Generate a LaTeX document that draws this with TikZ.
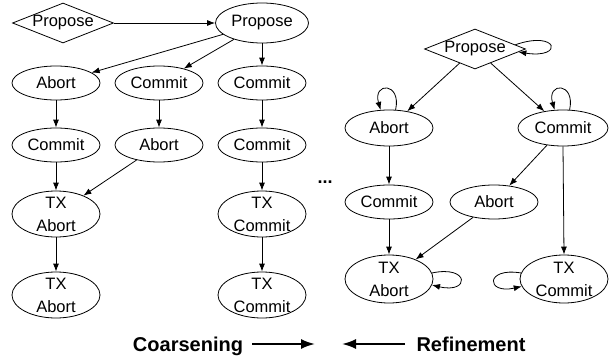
\documentclass[tikz,border=0pt]{standalone}
\usepackage{fontspec}
\setmainfont{Liberation Sans}
\usetikzlibrary{shapes.geometric,arrows.meta}

\begin{document}
\begin{tikzpicture}[x=1pt,y=-1pt,line width=0.8pt,
	st/.style={draw,ellipse,inner sep=0pt,minimum width=88pt,minimum height=34pt,font=\fontsize{16.5}{20}\selectfont},
	tx/.style={st,align=center,inner ysep=-3pt,minimum height=46pt,font=\fontsize{16.5}{23}\selectfont},
	start/.style={draw,diamond,aspect=2.5,inner sep=0pt,minimum width=101pt,minimum height=40pt,font=\fontsize{16.5}{20}\selectfont},
	tr/.style={-{Latex[length=8pt,width=6pt]}},
	big/.style={-{Latex[length=14pt,width=10pt]},line width=2pt},
	lbl/.style={anchor=base,inner sep=0pt,font=\fontsize{20}{24}\selectfont\bfseries}]
	\useasboundingbox (0,0) rectangle (613,356);

	% coarse graph
	\node[start] (p0) at (63,23) {Propose};
	\node[st,minimum width=93pt,minimum height=40pt] (p1) at (262,23) {Propose};

	\node[st] (a1) at (56,83) {Abort};
	\node[st] (c1) at (159,83) {Commit};
	\node[st] (c2) at (262,83) {Commit};

	\node[st] (c3) at (56,145) {Commit};
	\node[st] (a2) at (159,145) {Abort};
	\node[st] (c4) at (262,145) {Commit};

	\node[tx] (t1) at (56,214) {TX\\Abort};
	\node[tx] (t2) at (262,214) {TX\\Commit};
	\node[tx] (t3) at (56,295) {TX\\Abort};
	\node[tx] (t4) at (262,295) {TX\\Commit};

	\draw[tr] (p0) -- (p1);
	\draw[tr] (p1) -- (a1);
	\draw[tr] (p1) -- (c1);
	\draw[tr] (p1) -- (c2);
	\draw[tr] (a1) -- (c3);
	\draw[tr] (c1) -- (a2);
	\draw[tr] (c2) -- (c4);
	\draw[tr] (c3) -- (t1);
	\draw[tr] (a2) -- (t1);
	\draw[tr] (c4) -- (t2);
	\draw[tr] (t1) -- (t3);
	\draw[tr] (t2) -- (t4);

	\node[font=\fontsize{18}{20}\selectfont\bfseries,inner sep=0pt] (dots) at (325,182) {...};

	% refined graph
	\node[start] (q0) at (475,49) {Propose};
	\node[st,minimum height=36pt] (ra) at (389,128) {Abort};
	\node[st,minimum width=90pt,minimum height=36pt] (rc) at (563,128) {Commit};
	\node[st] (rc2) at (389,202) {Commit};
	\node[st] (ra2) at (494,202) {Abort};
	\node[tx,minimum height=48pt] (rt1) at (389,279) {TX\\Abort};
	\node[tx,minimum height=48pt] (rt2) at (564,279) {TX\\Commit};

	\draw[tr] (q0) -- (ra);
	\draw[tr] (q0) -- (rc);
	\draw[tr] (ra) -- (rc2);
	\draw[tr] (rc) -- (ra2);
	\draw[tr] (rc.south) -- (rt2.north);
	\draw[tr] (rc2) -- (rt1);
	\draw[tr] (ra2) -- (rt1);

	% self loops
	\draw[tr] (q0.6) .. controls +(43,-15) and +(46,7) .. (q0.-4);
	\draw[tr] (ra.70) .. controls +(6,-28) and +(-8,-28) .. (ra.115);
	\draw[tr] (rc.70) .. controls +(6,-28) and +(-8,-28) .. (rc.115);
	\draw[tr] (rt1.8) .. controls +(38,-8) and +(38,9) .. (rt1.-8);
	\draw[tr] (rt2.172) .. controls +(-36,-6) and +(-36,8) .. (rt2.-170);

	% direction labels
	\node[lbl] (coarse) at (188,351) {Coarsening};
	\node[lbl] (refine) at (471,351) {Refinement};
	\coordinate (ca) at (252,344);
	\coordinate (cb) at (315,344);
	\coordinate (ra0) at (405,344);
	\coordinate (rb) at (342,344);
	\draw[big] (ca) -- (cb);
	\draw[big] (ra0) -- (rb);
\end{tikzpicture}
\end{document}
